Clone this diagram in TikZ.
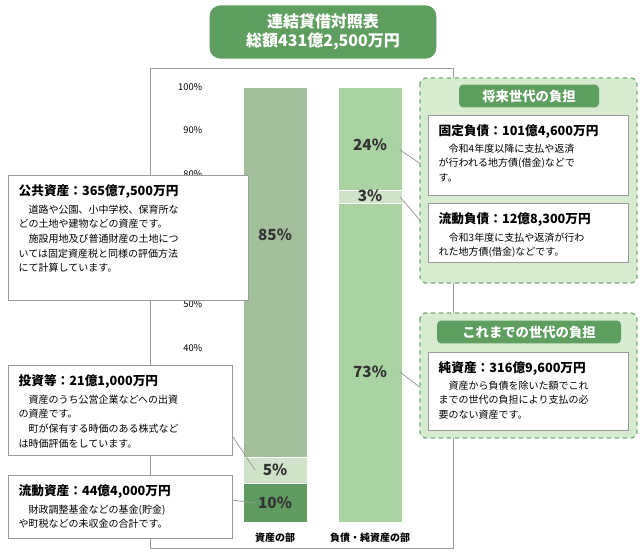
\documentclass[tikz,border=0pt]{standalone}
\usepackage{fontspec}
\setmainfont{Noto Sans CJK JP}
\usetikzlibrary{positioning}
\definecolor{titlegreen}{HTML}{5E9E5E}
\definecolor{bargray}{HTML}{A3BE9B}
\definecolor{barlight}{HTML}{CFE3C8}
\definecolor{bardark}{HTML}{5F9A5F}
\definecolor{barmid}{HTML}{A9D3A1}
\definecolor{panelgreen}{HTML}{D6EBD0}
\definecolor{dashgreen}{HTML}{6FAE6F}
\definecolor{framegray}{HTML}{9A9A9A}
\tikzset{
  x=0.75pt, y=-0.75pt,
  infobox/.style={draw=framegray, fill=white, line width=0.6pt},
  panel/.style={draw=dashgreen, fill=panelgreen, dashed, line width=1pt, rounded corners=4pt},
  paneltitle/.style={fill=titlegreen, text=white, rounded corners=3pt, font=\bfseries\fontsize{10}{12}\selectfont},
  pct/.style={font=\bfseries\fontsize{11.5}{13}\selectfont, text=black!80},
  axislbl/.style={font=\fontsize{7}{8}\selectfont, anchor=east},
  head/.style={anchor=north west, font=\bfseries\fontsize{9.5}{11}\selectfont},
  body/.style={anchor=north west, align=left, font=\fontsize{7.5}{11}\selectfont},
  pointer/.style={draw=framegray, line width=0.6pt}
}
\begin{document}
\begin{tikzpicture}
\useasboundingbox (0,0) rectangle (644,557);
% title
\node[fill=titlegreen, rounded corners=8pt, text=white, align=center, minimum width=170pt, minimum height=40pt,
      font=\bfseries\fontsize{12}{14}\selectfont] (title) at (323,32) {連結貸借対照表\\総額431億2,500万円};
% frame and grid
\draw[framegray, line width=0.6pt] (150,68) rectangle (453,548);
\foreach \p in {10,...,4}
  \node[axislbl] at (207,{522-43.5*\p}) {\p0\%};
% left bar
\draw[fill=bargray, draw=white] (243,87) rectangle (307,457);
\draw[fill=barlight, draw=white] (243,457) rectangle (307,483);
\draw[fill=bardark, draw=white] (243,483) rectangle (307,522);
\node[pct] (a85) at (275,235) {85\%};
\node[pct] (a5) at (275,470) {5\%};
\node[pct] (a10) at (275,503) {10\%};
% right bar
\draw[fill=barmid, draw=white] (338,87) rectangle (402,190);
\draw[fill=barlight, draw=white] (338,190) rectangle (402,203);
\draw[fill=barmid, draw=white] (338,203) rectangle (402,522);
\node[pct] (l24) at (370,145) {24\%};
\node[pct] (l3) at (370,196) {3\%};
\node[pct] (l73) at (370,372) {73\%};
\node[font=\bfseries\fontsize{7.5}{9}\selectfont] (asset) at (275,538) {資産の部};
\node[font=\bfseries\fontsize{7.5}{9}\selectfont] (liab) at (370,538) {負債・純資産の部};
% pointers
\draw[pointer] (215,410) -- (255,470);
\draw[pointer] (232,500) -- (255,503);
\draw[pointer] (400,150) -- (430,170);
\draw[pointer] (400,197) -- (430,232);
\draw[pointer] (400,372) -- (430,395);
% left boxes
\draw[infobox] (8,175) rectangle (248,300);
\node[head] (pub) at (14,180) {公共資産：365億7,500万円};
\node[body] at (14,200) {\quad 道路や公園、小中学校、保育所な\\ どの土地や建物などの資産です。\\ \quad 施設用地及び普通財産の土地につ\\ いては固定資産税と同様の評価方法\\ にて計算しています。};
\draw[infobox] (8,365) rectangle (232,455);
\node[head] (inv) at (14,370) {投資等：21億1,000万円};
\node[body] at (14,390) {\quad 資産のうち公営企業などへの出資\\ の資産です。\\ \quad 町が保有する時価のある株式など\\ は時価評価をしています。};
\draw[infobox] (8,475) rectangle (232,538);
\node[head] (cur) at (14,480) {流動資産：44億4,000万円};
\node[body] at (14,500) {\quad 財政調整基金などの基金(貯金)\\ や町税などの未収金の合計です。};
% right panels
\draw[panel] (420,78) rectangle (637,283);
\node[paneltitle, minimum width=105pt, minimum height=17pt] (fut) at (529,96) {将来世代の負担};
\draw[infobox] (428,115) rectangle (628,195);
\node[head] (fix) at (434,120) {固定負債：101億4,600万円};
\node[body] at (434,139) {\quad 令和4年度以降に支払や返済\\ が行われる地方債(借金)などで\\ す。};
\draw[infobox] (428,203) rectangle (628,262);
\node[head] (fl) at (434,208) {流動負債：12億8,300万円};
\node[body] at (434,228) {\quad 令和3年度に支払や返済が行わ\\ れた地方債(借金)などです。};
\draw[panel] (420,313) rectangle (637,438);
\node[paneltitle, minimum width=138pt, minimum height=17pt] (past) at (529,332) {これまでの世代の負担};
\draw[infobox] (428,352) rectangle (628,430);
\node[head] (net) at (434,357) {純資産：316億9,600万円};
\node[body] at (434,376) {\quad 資産から負債を除いた額でこれ\\ までの世代の負担により支払の必\\ 要のない資産です。};
\end{tikzpicture}
\end{document}
